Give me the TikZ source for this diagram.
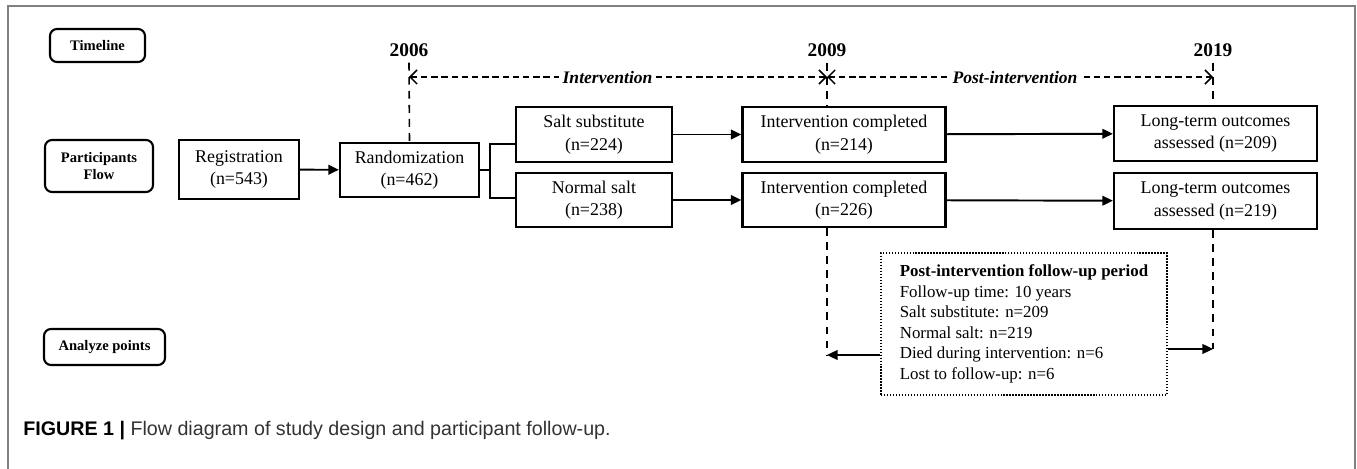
\documentclass[tikz,border=0pt]{standalone}
\usepackage{fontspec}
\setmainfont{Liberation Serif}
\newfontfamily\capfont{Liberation Sans}
\usetikzlibrary{arrows.meta,calc}

\begin{document}
\begin{tikzpicture}[x=0.02cm, y=-0.02cm,
    box/.style={draw, line width=1.3pt, fill=white, align=center, inner sep=0pt, font=\fontsize{10.2}{12.8}\selectfont},
    lbl/.style={draw, line width=1.2pt, rounded corners=4pt, align=center, inner sep=0pt, font=\fontsize{8.3}{10}\selectfont\bfseries},
    yr/.style={font=\fontsize{11}{12}\selectfont\bfseries},
    per/.style={fill=white, inner sep=2pt, font=\fontsize{10}{12}\selectfont\bfseries\itshape},
    tline/.style={line width=0.9pt, dash pattern=on 3.6pt off 2.2pt, {Straight Barb[length=4pt,width=8pt]}-{Straight Barb[length=4pt,width=8pt]}},
    vline/.style={line width=0.9pt, dash pattern=on 4.5pt off 3.5pt},
    flow/.style={line width=1.1pt, -{Triangle[length=6pt,width=5.5pt]}}]

    \useasboundingbox (0,0) rectangle (1357,469);
    % Cornice
    \draw[gray, line width=0.8pt] (8,469) -- (8,6) -- (1355,6) -- (1355,469);

    % Etichette a sinistra
    \node[lbl, minimum width=1.9cm, minimum height=0.66cm] (tl) at (97.5,45.5) {Timeline};
    \node[lbl, minimum width=2.16cm, minimum height=1.04cm] (pf) at (99,166) {Participants\\Flow};
    \node[lbl, minimum width=2.42cm, minimum height=0.72cm] (ap) at (104.5,347) {Analyze points};

    % Anni
    \node[yr] (y06) at (409,50) {2006};
    \node[yr] (y09) at (827,50) {2009};
    \node[yr] (y19) at (1213,50) {2019};
    \coordinate (a06) at (409,77);
    \coordinate (a09) at (827,77);
    \coordinate (a19) at (1213,77);
    \coordinate (e09) at (827,355);
    \coordinate (e19) at (1213,349);

    % Flusso dei partecipanti
    \node[box, minimum width=2.4cm, minimum height=1.18cm] (reg) at (239,169.5) {Registration\\(n=543)};
    \node[box, minimum width=2.78cm, minimum height=1.08cm] (rand) at (409.5,170) {Randomization\\(n=462)};
    \node[box, minimum width=3.12cm, minimum height=1.1cm] (ss) at (594,134.5) {Salt substitute\\(n=224)};
    \node[box, minimum width=3.12cm, minimum height=1.08cm] (ns) at (594,200) {Normal salt\\(n=238)};
    \node[box, minimum width=4.06cm, minimum height=1.1cm] (ic1) at (844,134.5) {Intervention completed\\(n=214)};
    \node[box, minimum width=4.06cm, minimum height=1.08cm] (ic2) at (844,200) {Intervention completed\\(n=226)};
    \node[box, minimum width=4.06cm, minimum height=1.1cm] (lt1) at (1215.5,133.5) {Long-term outcomes\\assessed (n=209)};
    \node[box, minimum width=4.06cm, minimum height=1.12cm] (lt2) at (1215.5,201) {Long-term outcomes\\assessed (n=219)};

    % Periodo di follow-up
    \node[draw, line width=0.8pt, dash pattern=on 0.8pt off 0.9pt, align=left, inner sep=0pt,
          minimum width=5.72cm, minimum height=2.84cm, font=\fontsize{9.6}{11.7}\selectfont] (fu) at (1024,324)
          {\textbf{Post-intervention follow-up period}\\Follow-up time: 10 years\\Salt substitute: n=209\\Normal salt: n=219\\Died during intervention: n=6\\Lost to follow-up: n=6};

    % Linee temporali
    \draw[vline] (y06.south) -- (rand.north);
    \draw[vline] (y09.south) -- (ic1.north -| y09);
    \draw[vline] (ic2.south -| y09) -- (e09);
    \draw[vline] (y19.south) -- (lt1.north -| y19);
    \draw[vline] (lt2.south -| y19) -- (e19);
    \draw[tline] (a06) -- (a09) node[per, pos=0.475] {Intervention};
    \draw[tline] (a09) -- (a19) node[per, pos=0.487] {Post-intervention};

    % Collegamenti
    \coordinate (br) at (490,170);
    \draw[flow] (reg) -- (rand);
    \draw[line width=1.1pt] (rand.east) -- (br);
    \draw[line width=1.1pt] ($(ss.west)+(0,9.5)$) -| (br) |- ($(ns.west)+(0,-2)$);
    \draw[flow] (ss) -- (ic1);
    \draw[flow] (ns) -- (ic2);
    \draw[flow] (ic1) -- (lt1);
    \draw[flow] (ic2) -- (lt2);
    \draw[flow] (fu.west |- e09) -- (e09);
    \draw[flow] (fu.east |- e19) -- (e19);

    % Didascalia
    \node[anchor=base west, inner sep=0pt, font=\capfont\fontsize{11.2}{13}\selectfont] (cap) at (23,436)
        {\textbf{FIGURE 1 |} \textcolor{black!80}{Flow diagram of study design and participant follow-up.}};
\end{tikzpicture}
\end{document}
